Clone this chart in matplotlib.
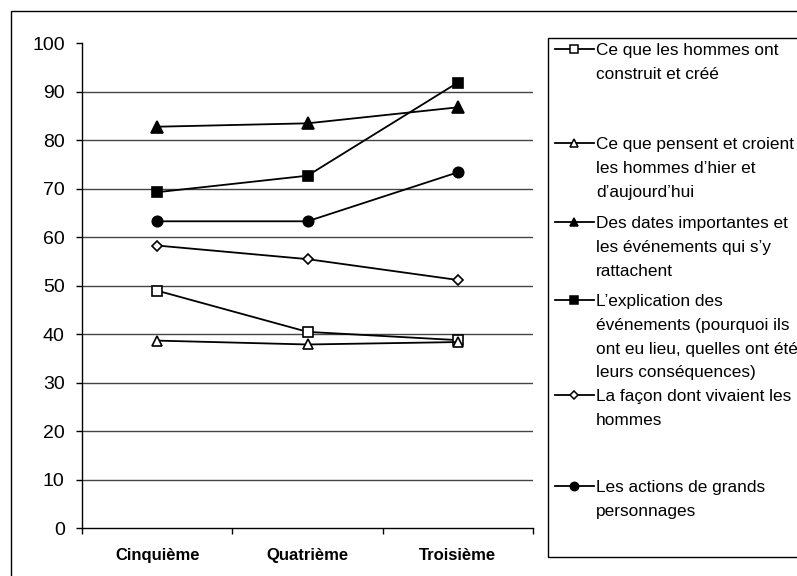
import numpy as np
import matplotlib
matplotlib.use("Agg")
import matplotlib.pyplot as plt
from matplotlib.lines import Line2D
from matplotlib.patches import Rectangle

plt.rcParams['font.family'] = ['Liberation Sans', 'DejaVu Sans']

# niveaux (classes)
niveaux = ["Cinquième", "Quatrième", "Troisième"]

# pourcentages
construit = [49.0, 40.5, 38.8]
pensent = [38.7, 37.9, 38.4]
dates = [82.8, 83.5, 86.8]
explication = [69.3, 72.7, 91.9]
facon = [58.3, 55.5, 51.2]
actions = [63.3, 63.3, 73.4]

labels = [
    "Ce que les hommes ont\nconstruit et créé",
    "Ce que pensent et croient\nles hommes d\u2019hier et\nd\u2019aujourd\u2019hui",
    "Des dates importantes et\nles événements qui s\u2019y\nrattachent",
    "L\u2019explication des\névénements (pourquoi ils\nont eu lieu, quelles ont été\nleurs conséquences)",
    "La façon dont vivaient les\nhommes",
    "Les actions de grands\npersonnages",
]

yticks = list(range(0, 101, 10))

series = [construit, pensent, dates, explication, facon, actions]
# (marker, face colour, marker size in plot, marker size in legend)
styles = [
    ('s', 'white', 7.5, 5.5),
    ('^', 'white', 7.5, 5.5),
    ('^', 'black', 8, 6),
    ('s', 'black', 7.5, 6),
    ('D', 'white', 5.5, 4.2),
    ('o', 'black', 7.5, 6),
]

W, H = 797, 576
fig = plt.figure(figsize=(W / 100, H / 100), dpi=100)


def fx(px):
    return px / W


def fy(py):
    return 1 - py / H


# cadre extérieur (coupé à droite et en bas)
fig.add_artist(Rectangle((fx(11), -0.2), 2, fy(11) + 0.2, transform=fig.transFigure,
                         fill=False, edgecolor='black', linewidth=1.0, clip_on=False))

ax = fig.add_axes([fx(82), fy(528.3), fx(533) - fx(82), fy(43.3) - fy(528.3)])

x = np.arange(len(niveaux))
ax.hlines(yticks[1:-1], -0.5, len(niveaux) - 0.5, colors='#454545', linewidth=1.0, zorder=1)

for vals, (mk, fc, ms, _) in zip(series, styles):
    ax.plot(x, vals, color='black', linewidth=1.3, marker=mk, markersize=ms,
            markerfacecolor=fc, markeredgecolor='black', markeredgewidth=1.2, zorder=3)

ax.set_xlim(-0.5, len(niveaux) - 0.5)
ax.set_ylim(0, 100)
ax.set_yticks(yticks)
ax.tick_params(axis='y', labelsize=14, length=4.5, width=1, pad=8)

ax.set_xticks(np.arange(len(niveaux) + 1) - 0.5)
ax.set_xticklabels([])
ax.set_xticks(x, minor=True)
ax.set_xticklabels(niveaux, minor=True, fontsize=12, fontweight='bold')
ax.tick_params(axis='x', which='major', length=4, width=1)
ax.tick_params(axis='x', which='minor', length=0, pad=14)

for side in ['top', 'right']:
    ax.spines[side].set_visible(False)
for side in ['left', 'bottom']:
    ax.spines[side].set_linewidth(1.0)

# légende dessinée à la main (espacement irrégulier comme l'original)
fig.add_artist(Rectangle((fx(548), fy(557)), 2, fy(38) - fy(557), transform=fig.transFigure,
                         fill=False, edgecolor='black', linewidth=1.0, clip_on=False))
entry_y = [49, 143, 222, 300, 395, 486]
line_step = 23.7
for ey, lab, (mk, fc, _, lms) in zip(entry_y, labels, styles):
    fig.add_artist(Line2D([fx(555), fx(594)], [fy(ey), fy(ey)], transform=fig.transFigure,
                          color='black', linewidth=1.3))
    fig.add_artist(Line2D([fx(574)], [fy(ey)], transform=fig.transFigure, marker=mk,
                          markersize=lms, markerfacecolor=fc, markeredgecolor='black',
                          markeredgewidth=1.1, linestyle='none'))
    for i, part in enumerate(lab.split("\n")):
        fig.text(fx(596), fy(ey + 6.2 + i * line_step), part, fontsize=12.4,
                 va='baseline', ha='left')

fig.savefig("out.png", dpi=100)
